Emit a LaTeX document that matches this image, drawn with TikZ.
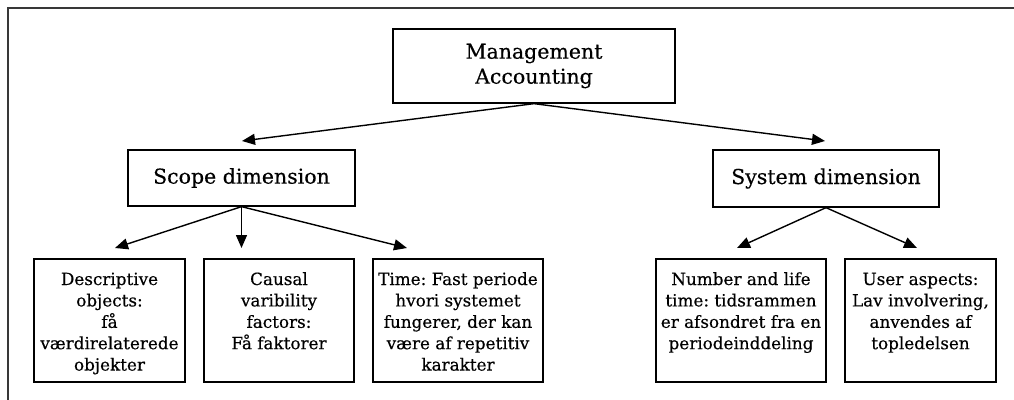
\documentclass[tikz,border=0pt]{standalone}
\usepackage{fontspec}
\setmainfont[FakeBold=0.4]{DejaVu Serif}
\usetikzlibrary{arrows.meta}
\frenchspacing

% top-aligned, centred text in a box of fixed size
\newcommand{\topbox}[2]{\parbox[c][123pt][t]{#1}{\centering\fontsize{16.8}{21.4}\selectfont\rule{0pt}{26pt}#2}}

\tikzset{
  headbox/.style={draw, line width=1.3pt, align=center, inner sep=0pt,
    font=\fontsize{20.5}{25}\selectfont},
  leafbox/.style={draw, line width=1.3pt, inner sep=0pt},
  link/.style={line width=1.4pt, -{Triangle[length=13pt,width=11pt]}},
  frameline/.style={line width=1.6pt, draw=black!78}
}

\begin{document}
\begin{tikzpicture}[x=1pt, y=-1pt]
  \useasboundingbox (0,0) rectangle (1014,399);

  % outer frame (left and top edges)
  \draw[frameline] (8,420) -- (8,8) -- (1030,8);

  % top level
  \node[headbox, minimum width=282pt, minimum height=74pt] (mgmt) at (534,66)
    {Management\\Accounting};

  % second level
  \node[headbox, minimum width=227pt, minimum height=56pt] (scope) at (241.5,178)
    {Scope dimension};
  \node[headbox, minimum width=226pt, minimum height=57pt] (sys) at (826,178.5)
    {System dimension};

  % third level
  \node[leafbox] (desc) at (109.5,320.5)
    {\topbox{151pt}{Descriptive\\objects:\\få\\værdirelaterede\\objekter}};
  \node[leafbox] (caus) at (279,320.5)
    {\topbox{150pt}{Causal\\varibility\\factors:\\Få faktorer}};
  \node[leafbox] (time) at (458,320.5)
    {\topbox{170pt}{Time: Fast periode\\hvori systemet\\fungerer, der kan\\være af repetitiv\\karakter}};
  \node[leafbox] (num) at (741,320.5)
    {\topbox{170pt}{Number and life\\time: tidsrammen\\er afsondret fra en\\periodeinddeling}};
  \node[leafbox] (user) at (920.5,320.5)
    {\topbox{151pt}{User aspects:\\Lav involvering,\\anvendes af\\topledelsen}};

  % arrow tips stop short of the boxes
  \coordinate (scopetip) at (242,141);
  \coordinate (systip)   at (825,141);
  \coordinate (desctip)  at (115,248);
  \coordinate (caustip)  at (241.5,248);
  \coordinate (timetip)  at (407,248);
  \coordinate (numtip)   at (737,248);
  \coordinate (usertip)  at (917,248);

  % connectors
  \draw[link] (mgmt.south) -- (scopetip);
  \draw[link] (mgmt.south) -- (systip);
  \draw[link] (scope.south) -- (desctip);
  \draw[link] (scope.south) -- (caustip);
  \draw[link] (scope.south) -- (timetip);
  \draw[link] (sys.south) -- (numtip);
  \draw[link] (sys.south) -- (usertip);
\end{tikzpicture}
\end{document}
